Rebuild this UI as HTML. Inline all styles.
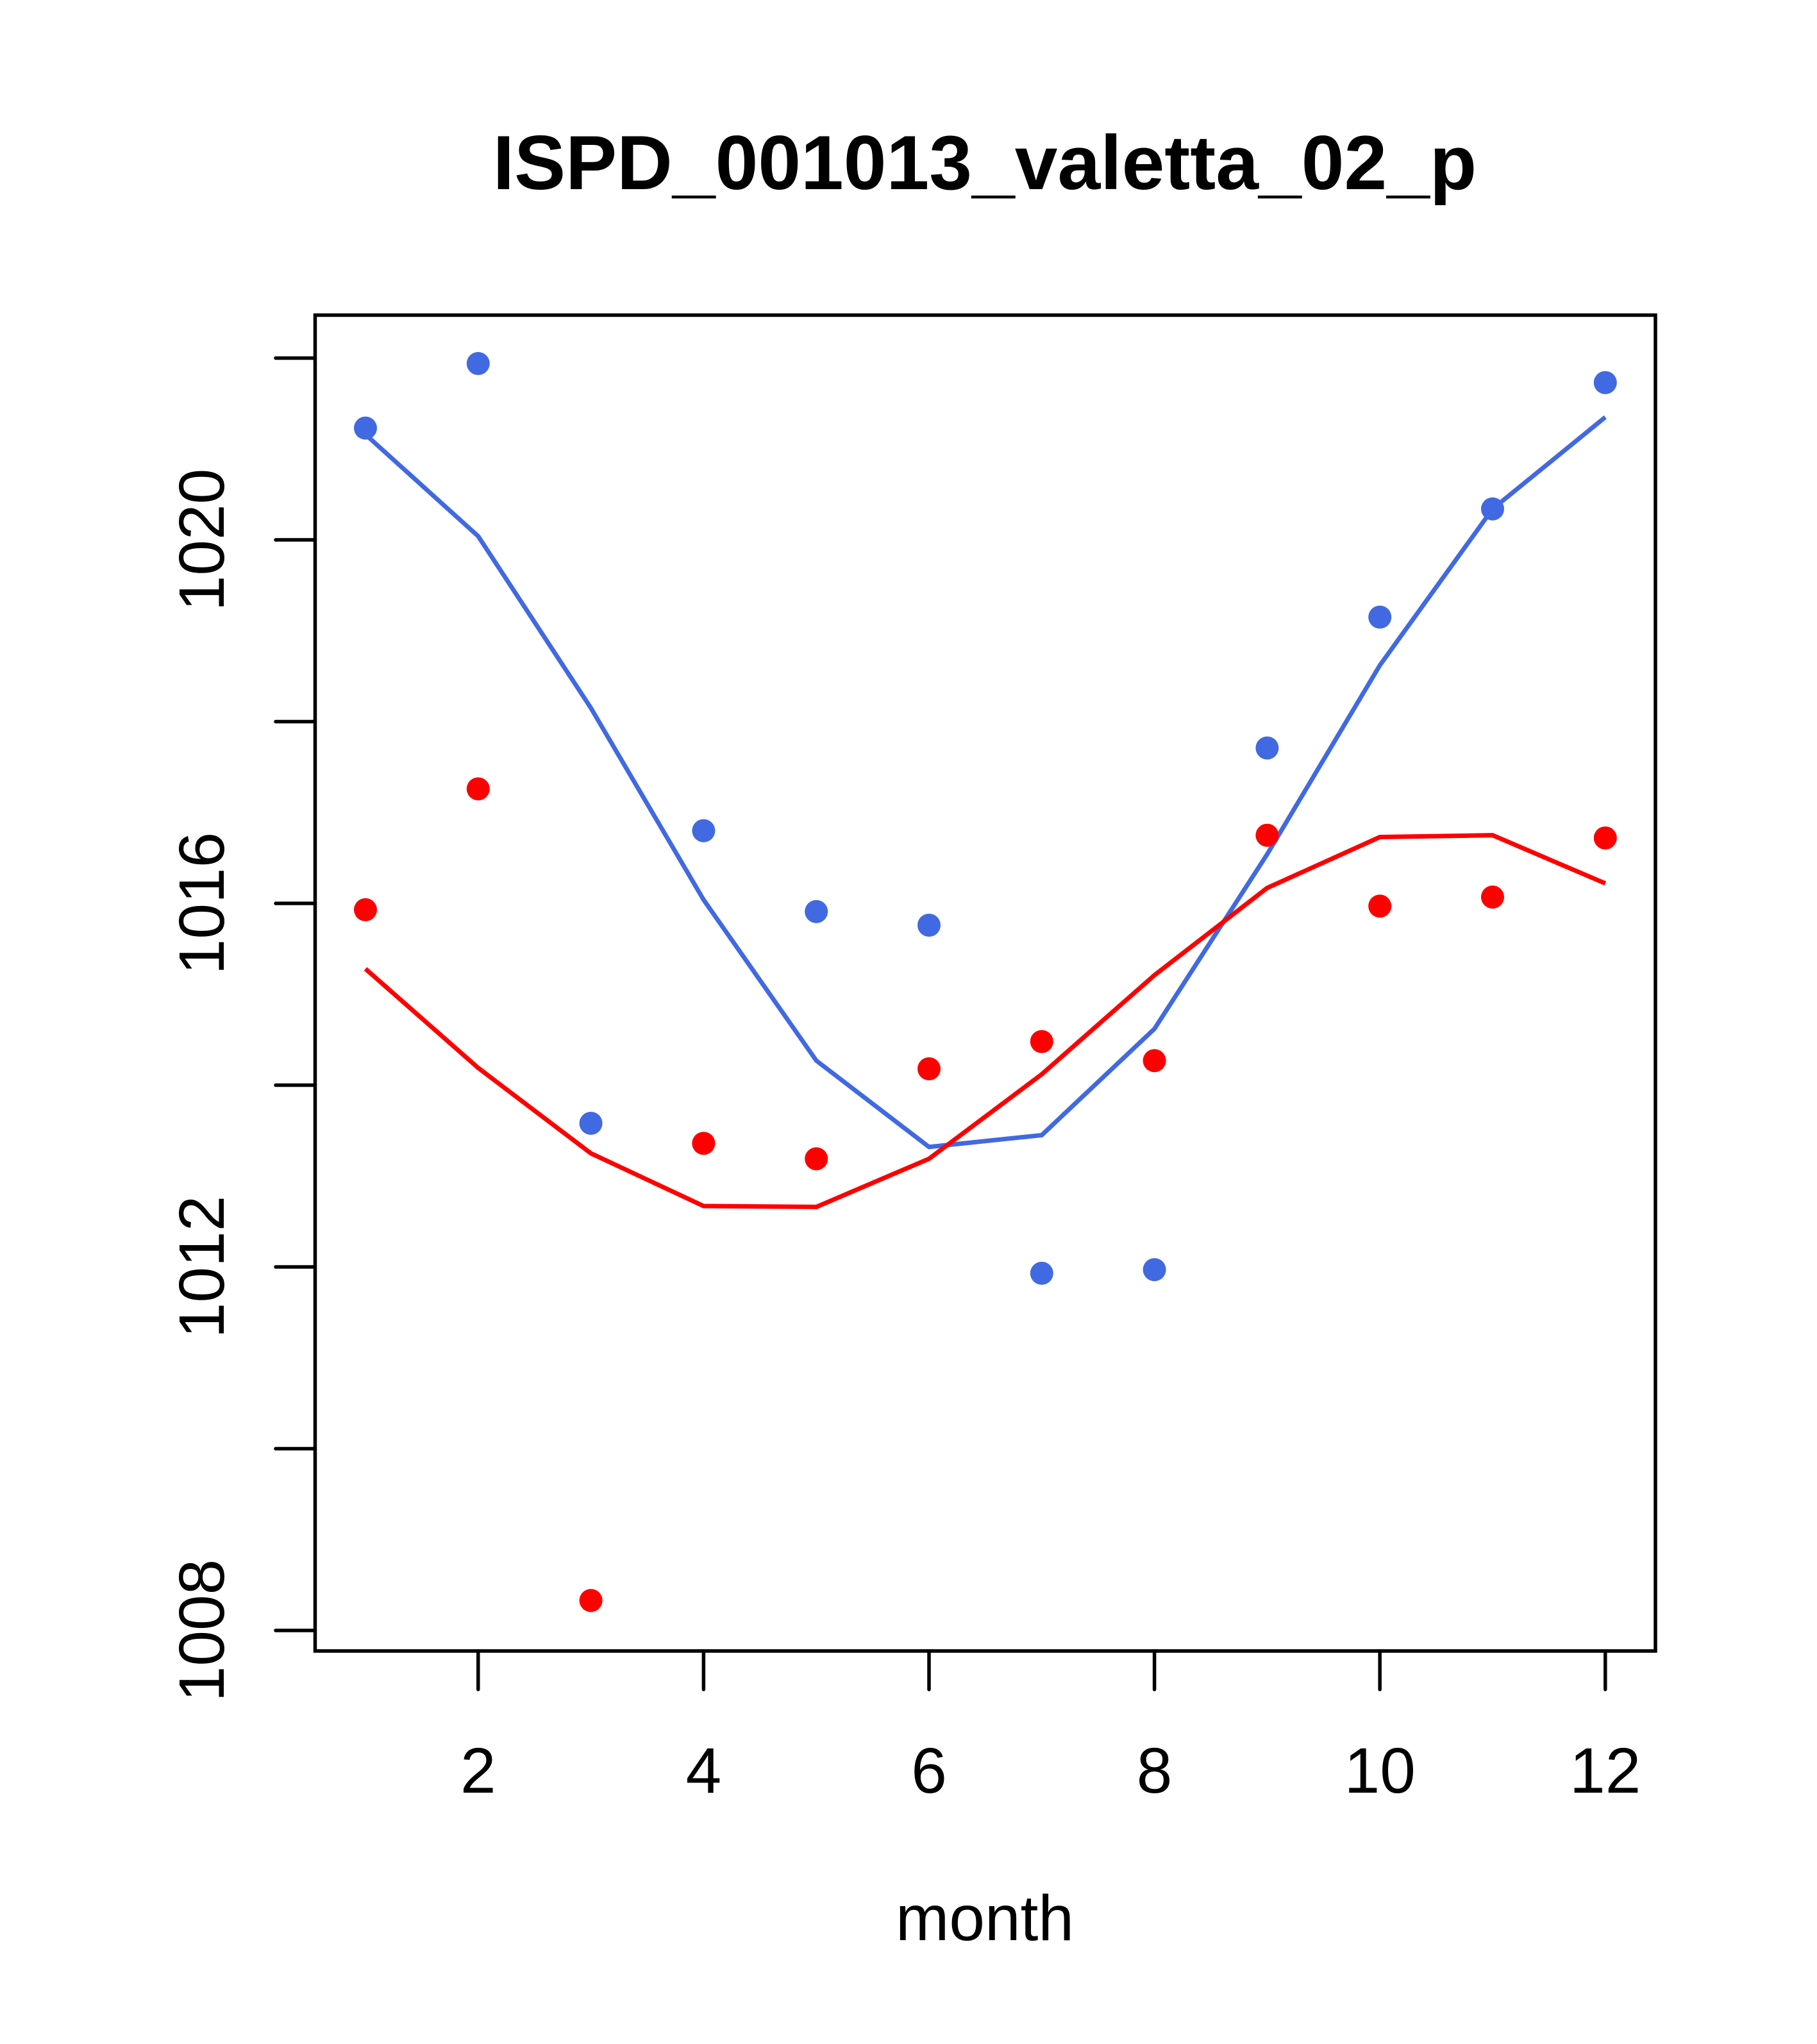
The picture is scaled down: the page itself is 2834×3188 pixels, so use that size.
<!DOCTYPE html>
<html><head><meta charset="utf-8"><style>html,body{margin:0;padding:0;background:#fff}svg{display:block}</style></head>
<body>
<svg id="chart" width="2834" height="3188" xmlns="http://www.w3.org/2000/svg" font-family="Liberation Sans, sans-serif">
<text x="1536" y="295" font-size="120" font-weight="bold" text-anchor="middle">ISPD_001013_valetta_02_p</text>
<rect x="491.5" y="491.5" width="2090.5" height="2083.5" fill="none" stroke="#000" stroke-width="5.5"/>
<g id="xaxis"></g>
<g id="yaxis"></g>
<g id="series"></g>
<text x="1536" y="3026" font-size="100" text-anchor="middle">month</text>
</svg>
<script>
const months=[1,2,3,4,5,6,7,8,9,10,11,12];
const xTicks=[2,4,6,8,10,12];
const yTicks=[1008,1010,1012,1014,1016,1018,1020,1022];
const yLabels=[1008,1012,1016,1020];
const bluePoints=[1021.23,1021.94,1013.58,1016.80,1015.91,1015.76,1011.93,1011.97,1017.71,1019.15,1020.34,1021.73];
const blueLine=[1021.16,1020.04,1018.15,1016.04,1014.27,1013.32,1013.45,1014.62,1016.54,1018.62,1020.34,1021.35];
const redPoints=[1015.93,1017.26,1008.33,1013.36,1013.19,1014.18,1014.48,1014.27,1016.75,1015.97,1016.07,1016.72];
const redLine=[1015.28,1014.19,1013.25,1012.67,1012.66,1013.19,1014.12,1015.21,1016.17,1016.73,1016.75,1016.22];

const NS='http://www.w3.org/2000/svg';
function X(m){return 570+(m-1)*175.8;}
function Y(v){return 842-(v-1020)*141.75;}
function mk(tag,attrs,parent){const e=document.createElementNS(NS,tag);for(const k in attrs)e.setAttribute(k,attrs[k]);parent.appendChild(e);return e;}
const xa=document.getElementById('xaxis'),ya=document.getElementById('yaxis'),sg=document.getElementById('series');
xTicks.forEach(t=>{
  const l=mk('line',{x1:X(t),x2:X(t),y1:2575,y2:2635,stroke:'#000','stroke-width':5.5,'stroke-linecap':'round'},xa);
  
  
  const tx=mk('text',{x:X(t),y:2796,'font-size':100,'text-anchor':'middle'},xa);
  tx.textContent=t;
  
  
});
yTicks.forEach(t=>{
  const l=mk('line',{x1:430,x2:491.5,y1:Y(t),y2:Y(t),stroke:'#000','stroke-width':5.5,'stroke-linecap':'round'},ya);
  
  
});
yLabels.forEach(t=>{
  const tx=mk('text',{x:0,y:0,'font-size':100,'text-anchor':'middle',transform:`translate(349,${Y(t)}) rotate(-90)`},ya);
  tx.textContent=t;
  
  
});
function line(vals,color,name){
  const p=mk('polyline',{points:vals.map((v,i)=>X(months[i])+','+Y(v)).join(' '),fill:'none',stroke:color,'stroke-width':7},sg);
  
  
}
function pts(vals,color,name){
  vals.forEach((v,i)=>{
    const c=mk('circle',{cx:X(months[i]),cy:Y(v),r:18,fill:color},sg);
    
    
  });
}
line(blueLine,'#4169e1','blue-fit-line');
line(redLine,'#ff0000','red-fit-line');
pts(bluePoints,'#4169e1','blue-point');
pts(redPoints,'#ff0000','red-point');
</script>
</body></html>
